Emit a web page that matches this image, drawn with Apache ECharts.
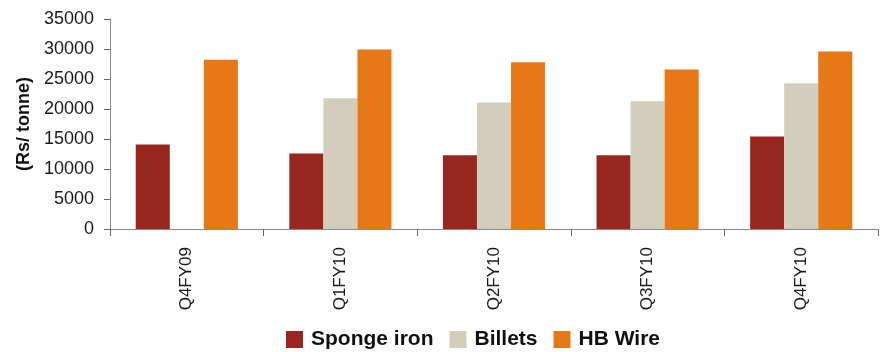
<!DOCTYPE html>
<html>
<head>
<meta charset="utf-8">
<script src="https://cdn.jsdelivr.net/npm/echarts@6/dist/echarts.min.js"></script>
<style>
  html, body { margin: 0; padding: 0; background: #fff; }
  #chart { width: 884px; height: 352px; }
</style>
</head>
<body>
<div id="chart"></div>
<script>
// Quarterly steel product prices (Rs/ tonne)
const quarters = ['Q4FY09', 'Q1FY10', 'Q2FY10', 'Q3FY10', 'Q4FY10'];
const spongeIron = [14100, 12600, 12300, 12300, 15400];
const billets = [null, 21800, 21100, 21300, 24300];
const hbWire = [28200, 29900, 27800, 26600, 29600];

const seriesNames = ['Sponge iron', 'Billets', 'HB Wire'];
const seriesColors = ['#98271F', '#D2CEBB', '#E67817'];
const seriesData = [spongeIron, billets, hbWire];

const axisGrey = '#8a8a8a';
const baseFont = '"Liberation Sans", Arial, sans-serif';

const chart = echarts.init(document.getElementById('chart'), null, { renderer: 'canvas' });

chart.setOption({
  animation: false,
  backgroundColor: '#ffffff',
  grid: { left: 110, right: 6, top: 19, bottom: 123, containLabel: false },
  legend: {
    left: 281,
    top: 324,
    itemWidth: 17,
    itemHeight: 17,
    itemGap: 16,
    icon: 'rect',
    textStyle: {
      fontFamily: baseFont,
      fontWeight: 'bold',
      fontSize: 21,
      color: '#111',
      padding: [0, 0, 0, 3]
    },
    data: seriesNames
  },
  xAxis: {
    type: 'category',
    data: quarters,
    axisLine: { lineStyle: { color: axisGrey, width: 1 } },
    axisTick: { show: true, length: 7, lineStyle: { color: '#666' } },
    axisLabel: {
      rotate: 90,
      margin: 18,
      fontFamily: baseFont,
      fontSize: 17,
      color: '#1a1a1a'
    }
  },
  yAxis: {
    type: 'value',
    min: 0,
    max: 35000,
    interval: 5000,
    name: '(Rs/ tonne)',
    nameLocation: 'middle',
    nameGap: 77,
    nameRotate: 90,
    nameTextStyle: {
      fontFamily: baseFont,
      fontWeight: 'bold',
      fontSize: 18,
      color: '#111'
    },
    axisLine: { show: true, lineStyle: { color: axisGrey, width: 1 } },
    axisTick: { show: true, length: 6, lineStyle: { color: '#666' } },
    splitLine: { show: false },
    axisLabel: {
      margin: 16,
      formatter: (v) => String(v),
      fontFamily: baseFont,
      fontSize: 18,
      color: '#1a1a1a'
    }
  },
  series: seriesNames.map((name, i) => ({
    name: name,
    type: 'bar',
    data: seriesData[i],
    barGap: '0%',
    barCategoryGap: '33.5%',
    itemStyle: { color: seriesColors[i] }
  }))
});
</script>
</body>
</html>
